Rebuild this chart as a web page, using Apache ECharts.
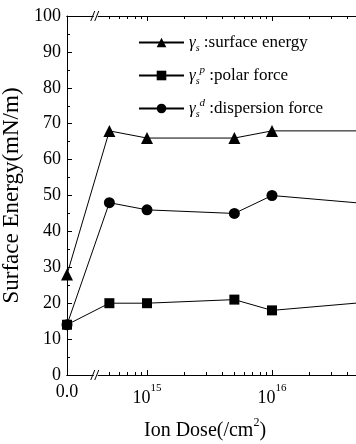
<!DOCTYPE html>
<html>
<head>
<meta charset="utf-8">
<script src="https://cdn.jsdelivr.net/npm/echarts@6/dist/echarts.min.js"></script>
<style>
html, body { margin: 0; padding: 0; background: #fff; }
#chart { width: 356px; height: 444px; }
</style>
</head>
<body>
<div id="chart"></div>
<script>
// ion dose (/cm2), 0 = untreated sample
const doses = [0, 5e14, 1e15, 5e15, 1e16, 1e17]
const surfaceEnergy = [28, 68, 66, 66, 68, 68]
const polarForce = [14, 20, 20, 21, 18, 21]
const dispersionForce = [14, 48, 46, 45, 50, 47]

const seriesNames = ['surface energy', 'polar force', 'dispersion force']
const legendTexts = [
    '{g|γ}{sub|s} :surface energy',
    '{g|γ}{sub|s}{sup|p} :polar force',
    '{g|γ}{sub|s}{sup|d} :dispersion force'
]

// x axis works in log10(dose); the zero dose sits left of the break
const zeroPos = 14.36
const breakPos = 14.59
const xMax = 17.2
const majorTicks = [15, 16, 17]
const labelTicks = [zeroPos, 15, 16, 17]

const minorTicks = []
for (let n = 14; n <= 16; n++) {
    for (let k = 2; k <= 9; k++) {
        const v = n + Math.log10(k)
        if (v > breakPos + 0.08 && v < xMax) minorTicks.push(v)
    }
}

const toX = d => d === 0 ? zeroPos : Math.log10(d)
const serif = 'Liberation Serif'

const chartDom = document.getElementById('chart')
const myChart = echarts.init(chartDom)

const tickAxis = (position, ticks, len) => ({
    type: 'value',
    position: position,
    min: zeroPos,
    max: xMax,
    axisLine: { show: true, onZero: false, lineStyle: { color: '#000', width: 1 } },
    axisTick: { show: true, inside: true, length: len, customValues: ticks, lineStyle: { color: '#000' } },
    axisLabel: { show: false },
    splitLine: { show: false }
})

const lineSeries = (name, values, symbol, size, z) => ({
    name: name,
    type: 'line',
    xAxisIndex: 0,
    data: doses.map((d, i) => [toX(d), values[i]]),
    symbol: symbol,
    symbolSize: size,
    showAllSymbol: true,
    lineStyle: { color: '#000', width: 1 },
    itemStyle: { color: '#000' },
    z: z,
    animation: false
})

const option = {
    animation: false,
    grid: {
        left: 67, top: 16, bottom: 69,
        right: 356 - (67 + (xMax - zeroPos) * 125),
        outerBoundsMode: 'none',
        containLabel: false
    },
    title: {
        text: 'Ion Dose(/cm{sup|2})',
        left: 139,
        top: 412,
        textStyle: {
            fontFamily: serif, fontSize: 20, fontWeight: 'normal', color: '#000', lineHeight: 28,
            rich: {
                sup: { fontFamily: serif, fontSize: 12, color: '#000', verticalAlign: 'top', lineHeight: 12 }
            }
        }
    },
    legend: {
        orient: 'vertical',
        left: 133,
        top: 29,
        itemWidth: 45,
        itemHeight: 12,
        itemGap: 11,
        data: seriesNames,
        formatter: name => legendTexts[seriesNames.indexOf(name)],
        textStyle: {
            fontFamily: serif, fontSize: 17, color: '#000',
            rich: {
                g: { fontFamily: serif, fontSize: 17, fontStyle: 'italic', color: '#000', lineHeight: 22 },
                sub: { fontFamily: serif, fontSize: 10, fontStyle: 'italic', color: '#000', verticalAlign: 'bottom', lineHeight: 11 },
                sup: { fontFamily: serif, fontSize: 11, fontStyle: 'italic', color: '#000', verticalAlign: 'top', lineHeight: 11 }
            }
        }
    },
    xAxis: [
        {
            type: 'value',
            position: 'bottom',
            min: zeroPos,
            max: xMax,
            axisLine: { show: true, onZero: false, lineStyle: { color: '#000', width: 1 } },
            axisTick: { show: true, inside: true, length: 5, customValues: majorTicks, lineStyle: { color: '#000' } },
            axisLabel: {
                show: true,
                margin: 8,
                customValues: labelTicks,
                color: '#000',
                fontFamily: serif,
                fontSize: 18,
                formatter: v => v < breakPos ? '0.0' : '{b|10}{sup|' + Math.round(v) + '}',
                rich: {
                    b: { fontFamily: serif, fontSize: 18, color: '#000', lineHeight: 30 },
                    sup: { fontFamily: serif, fontSize: 11, color: '#000', verticalAlign: 'top', lineHeight: 13 }
                }
            },
            splitLine: { show: false }
        },
        tickAxis('bottom', minorTicks, 3),
        tickAxis('top', majorTicks, 5),
        tickAxis('top', minorTicks, 3)
    ],
    yAxis: {
        type: 'value',
        min: 0,
        max: 100,
        interval: 10,
        name: 'Surface Energy(mN/m)',
        nameLocation: 'middle',
        nameGap: 40,
        nameTextStyle: { fontFamily: serif, fontSize: 23, color: '#000' },
        axisLine: { show: true, lineStyle: { color: '#000', width: 1 } },
        axisTick: { show: true, inside: true, length: 5, lineStyle: { color: '#000' } },
        minorTick: { show: true, splitNumber: 2, length: 3, lineStyle: { color: '#000' } },
        axisLabel: { margin: 6, color: '#000', fontFamily: serif, fontSize: 18 },
        splitLine: { show: false }
    },
    series: [
        lineSeries(seriesNames[0], surfaceEnergy, 'triangle', 12, 2),
        lineSeries(seriesNames[2], dispersionForce, 'circle', 11, 3),
        lineSeries(seriesNames[1], polarForce, 'rect', 10, 4)
    ]
}
myChart.setOption(option)

// axis break marks "//" on the bottom and top axis lines
const bx = myChart.convertToPixel({ xAxisIndex: 0 }, breakPos)
const yBottom = myChart.convertToPixel({ yAxisIndex: 0 }, 0)
const yTop = myChart.convertToPixel({ yAxisIndex: 0 }, 100)
const breakMark = y => [
    { type: 'rect', shape: { x: bx - 2, y: y - 2, width: 4, height: 4 }, style: { fill: '#fff' }, z: 100 },
    { type: 'line', shape: { x1: bx - 5, y1: y + 5, x2: bx - 1, y2: y - 5 }, style: { stroke: '#000', lineWidth: 1 }, z: 101 },
    { type: 'line', shape: { x1: bx - 1, y1: y + 5, x2: bx + 3, y2: y - 5 }, style: { stroke: '#000', lineWidth: 1 }, z: 101 }
]
myChart.setOption({ graphic: breakMark(yBottom).concat(breakMark(yTop)) })
</script>
</body>
</html>
